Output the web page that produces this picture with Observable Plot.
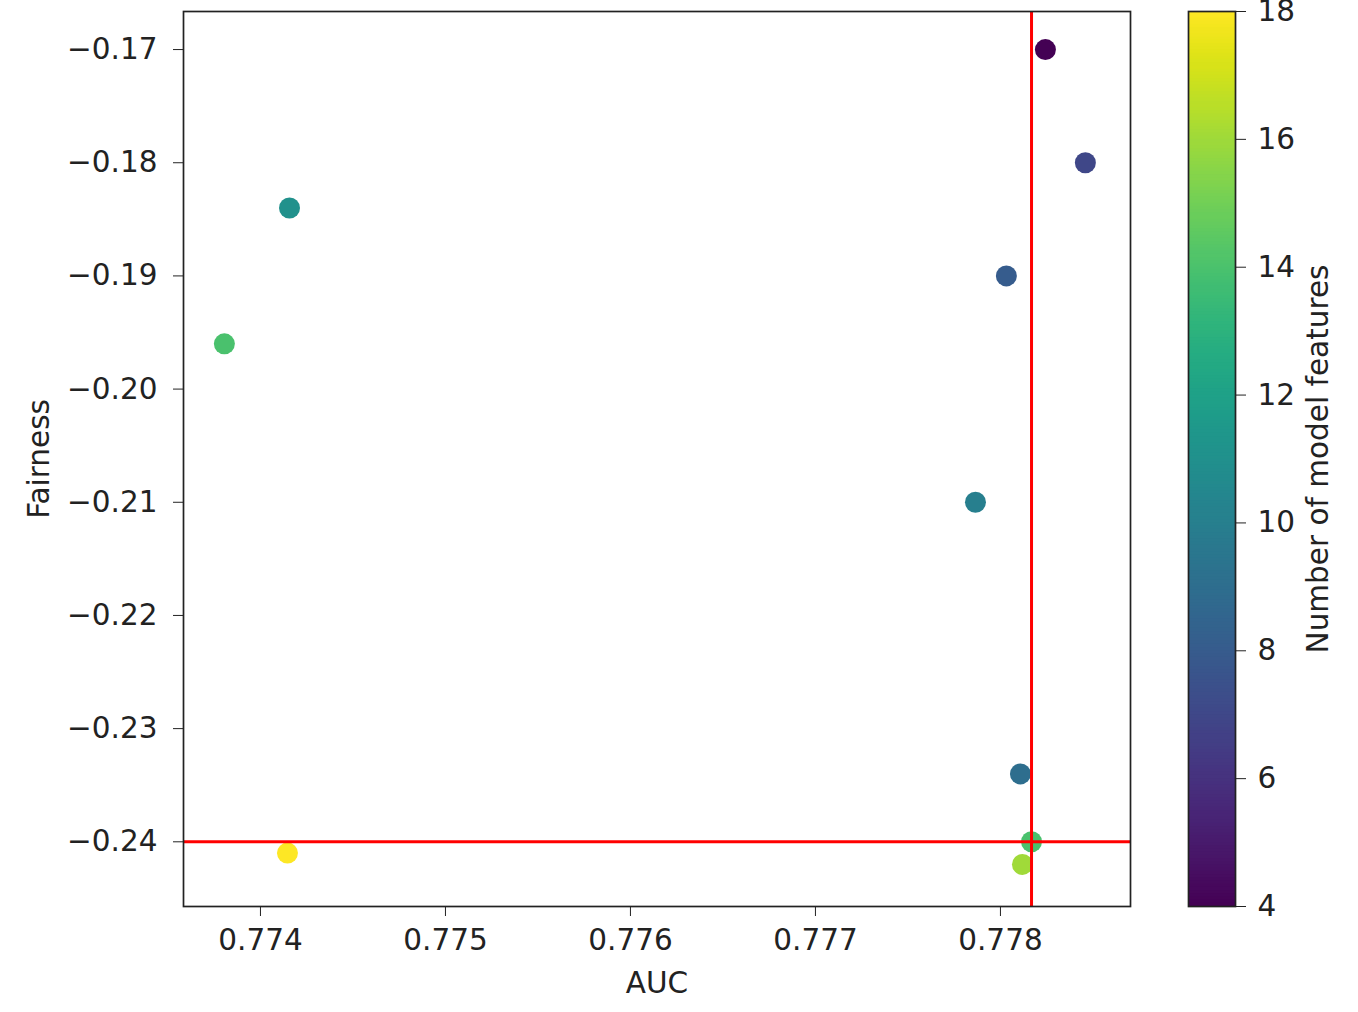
<!DOCTYPE html>
<html>
<head>
<meta charset="utf-8">
<script src="https://cdn.jsdelivr.net/npm/d3@7"></script>
<script src="https://cdn.jsdelivr.net/npm/@observablehq/plot@0.6"></script>
<style>
  html, body { margin: 0; padding: 0; background: #fff; }
  #wrap { position: relative; width: 1358px; height: 1012px; font-family: "DejaVu Sans", sans-serif; }
  #main, #cbar { position: absolute; top: 0; }
  #main { left: 0; }
  #cbar { left: 1160px; }
  svg { overflow: visible; }
</style>
</head>
<body>
<div id="wrap"><div id="main"></div><div id="cbar"></div></div>
<script>
// Data
const auc      = [0.778243, 0.778459, 0.778032, 0.777865, 0.778108, 0.778168, 0.778119, 0.774157, 0.773805, 0.774146];
const fairness = [-0.170, -0.180, -0.190, -0.210, -0.234, -0.240, -0.242, -0.184, -0.196, -0.241];
const features = [4, 7, 8, 10, 9, 14, 16, 11, 14, 18];
const refAUC = [0.778168];
const refFairness = [-0.240];
const xTicks = [0.774, 0.775, 0.776, 0.777, 0.778];
const yTicks = [-0.17, -0.18, -0.19, -0.20, -0.21, -0.22, -0.23, -0.24];
const cTicks = [4, 6, 8, 10, 12, 14, 16, 18];
const colorDomain = [4, 18];

const points = auc.map((a, i) => ({auc: a, fairness: fairness[i], features: features[i]}));

const fontStyle = {fontFamily: "DejaVu Sans", fontSize: "29.5px", color: "#222", background: "transparent"};

const main = Plot.plot({
  width: 1160,
  height: 1012,
  marginLeft: 183,
  marginRight: 30,
  marginTop: 11,
  marginBottom: 106,
  style: fontStyle,
  x: {domain: [0.773584, 0.778703], ticks: xTicks, tickFormat: d3.format(".3f"), tickSize: 10, tickPadding: 13, label: "AUC", labelAnchor: "center", labelArrow: "none", labelOffset: 86},
  y: {domain: [-0.245717, -0.166637], ticks: yTicks, tickFormat: d3.format(".2f"), tickSize: 10, tickPadding: 16, label: "Fairness", labelAnchor: "center", labelArrow: "none", labelOffset: 155},
  color: {type: "linear", scheme: "viridis", domain: colorDomain},
  marks: [
    Plot.dot(points, {x: "auc", y: "fairness", fill: "features", r: 10.5}),
    Plot.ruleX(refAUC, {stroke: "#ff0000", strokeWidth: 3}),
    Plot.ruleY(refFairness, {stroke: "#ff0000", strokeWidth: 3}),
    Plot.frame({stroke: "#222", strokeWidth: 1.7})
  ]
});
document.getElementById("main").appendChild(main);

// Vertical colorbar
const step = 0.05;
const bands = d3.range(colorDomain[0], colorDomain[1], step);
const cbar = Plot.plot({
  width: 198,
  height: 1012,
  marginLeft: 28,
  marginRight: 123,
  marginTop: 11,
  marginBottom: 106,
  style: fontStyle,
  x: {domain: [0, 1], axis: null},
  y: {domain: colorDomain, ticks: cTicks, tickSize: 10, tickPadding: 12, axis: "right", label: "Number of model features", labelAnchor: "center", labelArrow: "none", labelOffset: 92},
  color: {type: "linear", scheme: "viridis", domain: colorDomain},
  marks: [
    Plot.rect(bands, {x1: 0, x2: 1, y1: d => d, y2: d => Math.min(d + step * 1.5, colorDomain[1]), fill: d => d + step / 2}),
    Plot.frame({stroke: "#222", strokeWidth: 1.7})
  ]
});
document.getElementById("cbar").appendChild(cbar);
</script>
</body>
</html>
